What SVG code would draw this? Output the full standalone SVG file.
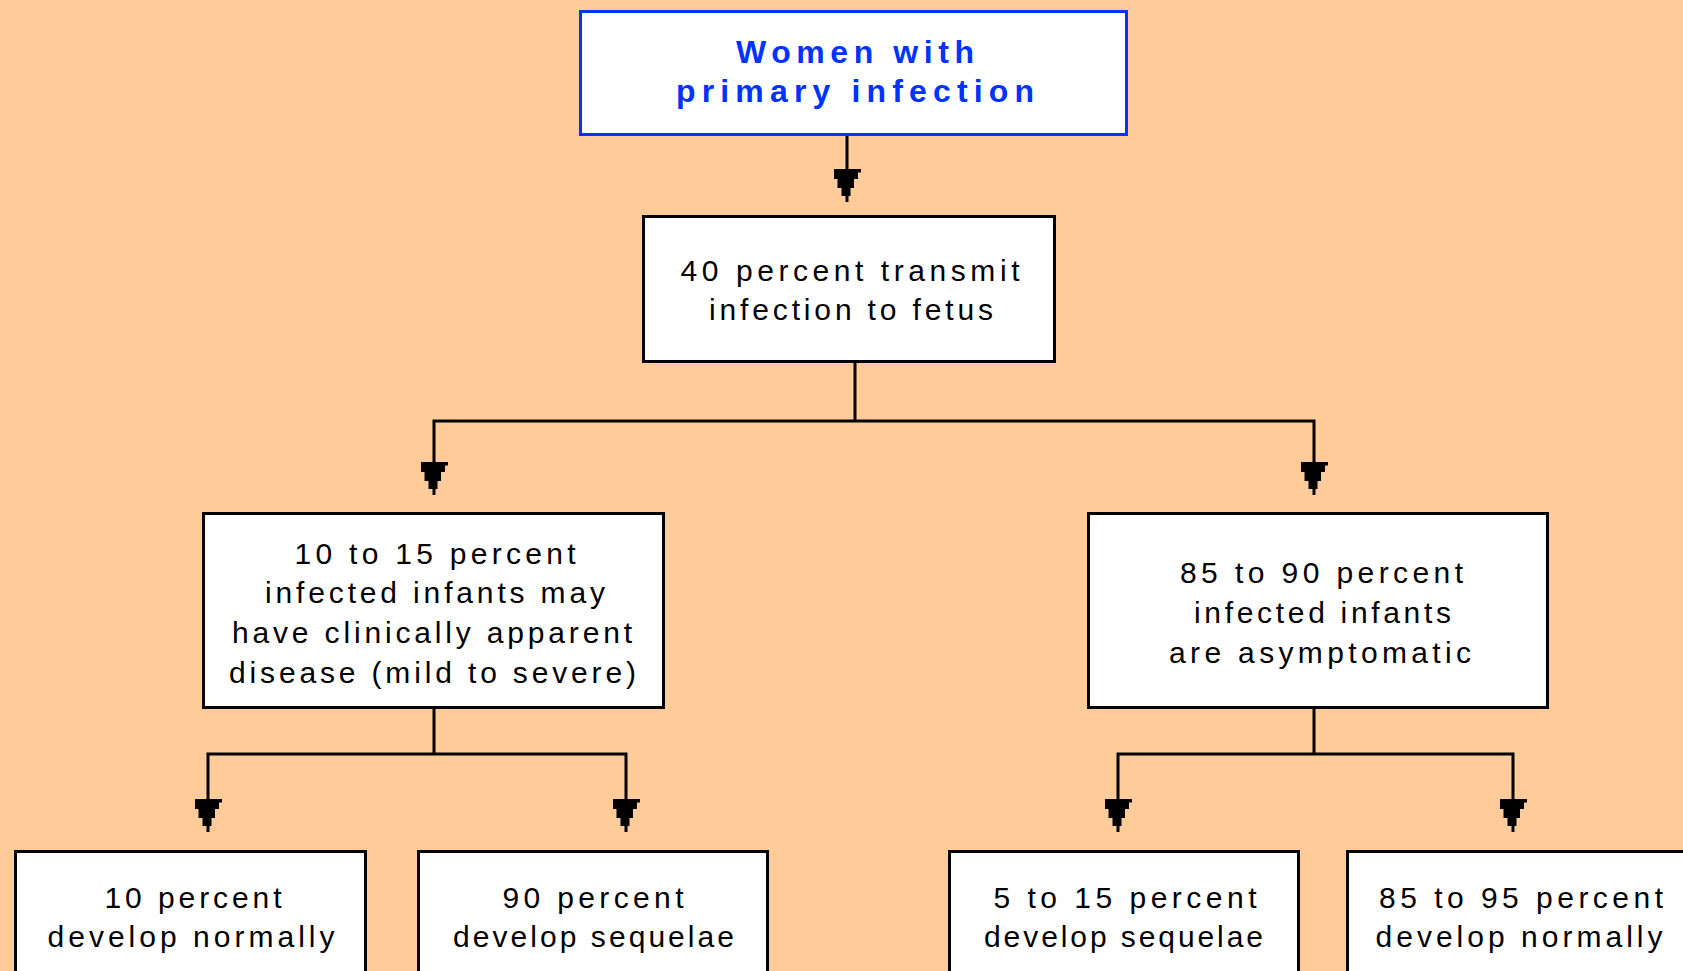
<svg xmlns="http://www.w3.org/2000/svg" xmlns:xlink="http://www.w3.org/1999/xlink" width="1683" height="971" viewBox="0 0 1683 971">
<style>
.bg{fill:#FFCC99}
.box{fill:#FFFFFF;stroke:#000000;stroke-width:3}
.top{fill:#FFFFFF;stroke:#0033FF;stroke-width:3}
.t{font-family:"Liberation Sans","DejaVu Sans",sans-serif;font-size:30px;fill:#000000;text-anchor:middle}
.tt{font-family:"Liberation Sans","DejaVu Sans",sans-serif;font-size:32px;font-weight:bold;fill:#0033FF;text-anchor:middle}
.c{fill:none;stroke:#000000;stroke-width:3;stroke-linejoin:miter}
.ah{fill:#000000}
</style>
<defs>
<path id="ah" class="ah" d="M-13,0 H14 V3.5 H11 V10 H7 V19 H3.5 V27 H1.5 V33 H-1.5 V27 H-5.5 V19 H-9.5 V10 H-13 Z"/>
</defs>
<rect class="bg" x="0" y="0" width="1683" height="971"/>

<g id="connectors">
<path class="c" d="M847,136 V170"/>
<path class="c" d="M855,363 V421"/>
<path class="c" d="M434,463 V421 H1314 V463"/>
<path class="c" d="M434,709 V754"/>
<path class="c" d="M208,800 V754 H626 V800"/>
<path class="c" d="M1314,709 V754"/>
<path class="c" d="M1118,800 V754 H1513 V800"/>
<use xlink:href="#ah" x="847" y="169"/>
<use xlink:href="#ah" x="434" y="462"/>
<use xlink:href="#ah" x="1314" y="462"/>
<use xlink:href="#ah" x="208" y="799"/>
<use xlink:href="#ah" x="626" y="799"/>
<use xlink:href="#ah" x="1118" y="799"/>
<use xlink:href="#ah" x="1513" y="799"/>
</g>

<g id="n-primary">
<rect class="top" x="580.5" y="11.5" width="546" height="123"/>
<text class="tt" x="855" y="63" textLength="238" lengthAdjust="spacing">Women with</text>
<text class="tt" x="855" y="102" textLength="358" lengthAdjust="spacing">primary infection</text>
</g>

<g id="n-transmit">
<rect class="box" x="643.5" y="216.5" width="411" height="145"/>
<text class="t" x="850" y="281" textLength="339" lengthAdjust="spacing">40 percent transmit</text>
<text class="t" x="851" y="320" textLength="284" lengthAdjust="spacing">infection to fetus</text>
</g>

<g id="n-apparent">
<rect class="box" x="203.5" y="513.5" width="460" height="194"/>
<text class="t" x="435" y="564" textLength="281" lengthAdjust="spacing">10 to 15 percent</text>
<text class="t" x="435" y="603" textLength="340" lengthAdjust="spacing">infected infants may</text>
<text class="t" x="432" y="643" textLength="400" lengthAdjust="spacing">have clinically apparent</text>
<text class="t" x="432.5" y="683" textLength="407" lengthAdjust="spacing">disease (mild to severe)</text>
</g>

<g id="n-asymptomatic">
<rect class="box" x="1088.5" y="513.5" width="459" height="194"/>
<text class="t" x="1321.5" y="583" textLength="283" lengthAdjust="spacing">85 to 90 percent</text>
<text class="t" x="1322.5" y="623" textLength="257" lengthAdjust="spacing">infected infants</text>
<text class="t" x="1320" y="663" textLength="302" lengthAdjust="spacing">are asymptomatic</text>
</g>

<g id="n-10-normal">
<rect class="box" x="15.5" y="851.5" width="350" height="150"/>
<text class="t" x="193" y="908" textLength="177" lengthAdjust="spacing">10 percent</text>
<text class="t" x="191" y="947" textLength="287" lengthAdjust="spacing">develop normally</text>
</g>

<g id="n-90-sequelae">
<rect class="box" x="418.5" y="851.5" width="349" height="150"/>
<text class="t" x="593" y="908" textLength="181" lengthAdjust="spacing">90 percent</text>
<text class="t" x="593.5" y="947" textLength="281" lengthAdjust="spacing">develop sequelae</text>
</g>

<g id="n-5-15-sequelae">
<rect class="box" x="949.5" y="851.5" width="349" height="150"/>
<text class="t" x="1125" y="908" textLength="263" lengthAdjust="spacing">5 to 15 percent</text>
<text class="t" x="1123.5" y="947" textLength="279" lengthAdjust="spacing">develop sequelae</text>
</g>

<g id="n-85-95-normal">
<rect class="box" x="1347.5" y="851.5" width="400" height="150"/>
<text class="t" x="1521" y="908" textLength="284" lengthAdjust="spacing">85 to 95 percent</text>
<text class="t" x="1519" y="947" textLength="287" lengthAdjust="spacing">develop normally</text>
</g>
</svg>
